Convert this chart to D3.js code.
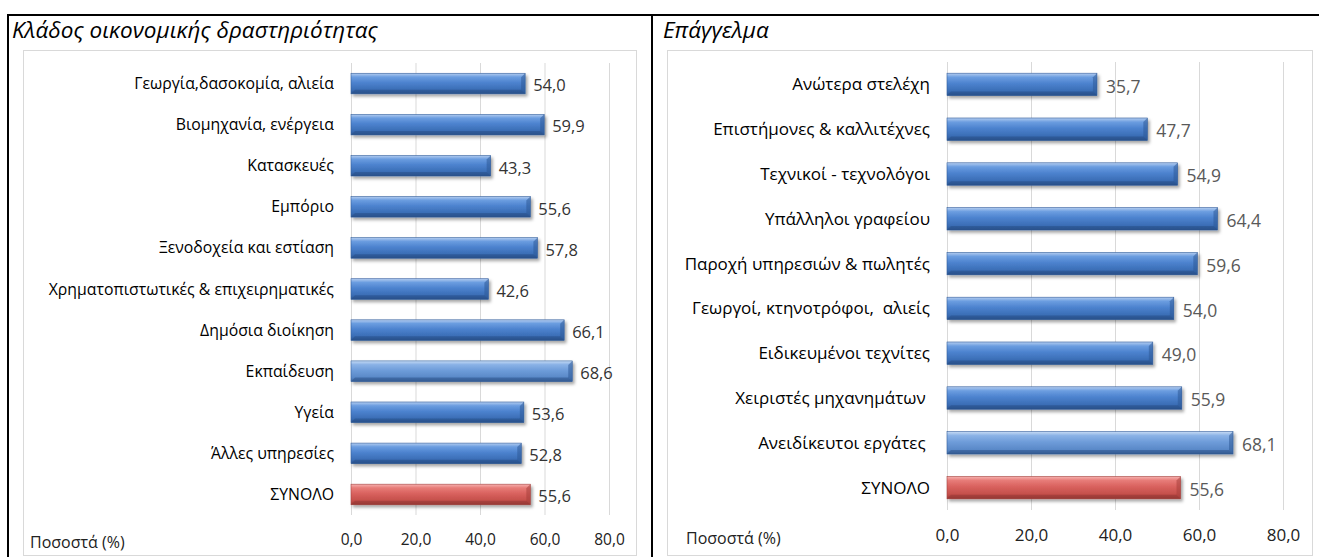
<!DOCTYPE html>
<html><head><meta charset="utf-8">
<script src="https://cdn.jsdelivr.net/npm/d3@7"></script>
<style>
html,body{margin:0;padding:0;background:#fff;}
svg{display:block;}
</style></head>
<body>
<svg id="chart" width="1319" height="557"></svg>
<script>
// ---- data ----
const leftTitle = "Κλάδος οικονομικής δραστηριότητας";
const leftCategories = ["Γεωργία,δασοκομία, αλιεία","Βιομηχανία, ενέργεια","Κατασκευές","Εμπόριο","Ξενοδοχεία και εστίαση","Χρηματοπιστωτικές & επιχειρηματικές","Δημόσια διοίκηση","Εκπαίδευση","Υγεία","Άλλες υπηρεσίες","ΣΥΝΟΛΟ"];
const leftValues = [54.0,59.9,43.3,55.6,57.8,42.6,66.1,68.6,53.6,52.8,55.6];
const leftHighlight = [7];

const rightTitle = "Επάγγελμα";
const rightCategories = ["Ανώτερα στελέχη","Επιστήμονες & καλλιτέχνες","Τεχνικοί - τεχνολόγοι","Υπάλληλοι γραφείου","Παροχή υπηρεσιών & πωλητές","Γεωργοί, κτηνοτρόφοι,  αλιείς","Ειδικευμένοι τεχνίτες","Χειριστές μηχανημάτων ","Ανειδίκευτοι εργάτες ","ΣΥΝΟΛΟ"];
const rightValues = [35.7,47.7,54.9,64.4,59.6,54.0,49.0,55.9,68.1,55.6];
const rightHighlight = [8];

const tickValues = [0,20,40,60,80];
const axisTitle = "Ποσοστά (%)";
const fmt = v => v.toFixed(1).replace(".", ",");

const svg = d3.select("#chart");
const defs = svg.append("defs");

function grad(id, stops){
  const g = defs.append("linearGradient").attr("id", id).attr("x1",0).attr("y1",0).attr("x2",0).attr("y2",1);
  stops.forEach(s => g.append("stop").attr("offset", s[0]).attr("stop-color", s[1]));
}
grad("gBlue", [[0,"#b4cdf0"],[0.18,"#6b9de0"],[0.45,"#4d83cf"],[0.8,"#3a6db5"],[1,"#2b5590"]]);
grad("gLight", [[0,"#c6daf4"],[0.18,"#8ab2e6"],[0.45,"#6f9dda"],[0.8,"#5a89c8"],[1,"#3f679f"]]);
grad("gRed", [[0,"#f7b3b1"],[0.18,"#e77c78"],[0.45,"#d9625e"],[0.8,"#c44f4b"],[1,"#9c3a37"]]);
const sh = defs.append("filter").attr("id","shadow").attr("x","-5%").attr("y","-30%").attr("width","115%").attr("height","190%");
sh.append("feDropShadow").attr("dx",2).attr("dy",2.5).attr("stdDeviation",1.5).attr("flood-color","#000").attr("flood-opacity",0.35);

// outer frame lines
svg.append("line").attr("x1",7).attr("x2",1319).attr("y1",15).attr("y2",15).attr("stroke","#000").attr("stroke-width",2);
svg.append("line").attr("x1",8).attr("x2",8).attr("y1",14).attr("y2",557).attr("stroke","#000").attr("stroke-width",2);
svg.append("line").attr("x1",652).attr("x2",652).attr("y1",14).attr("y2",557).attr("stroke","#000").attr("stroke-width",2);

function panel(cfg){
  const g = svg.append("g");
  g.append("text").attr("x", cfg.titleX).attr("y", 38)
    .attr("font-family","'Open Sans', 'Noto Sans', sans-serif").attr("font-style","italic")
    .attr("font-size", cfg.titleSize).attr("fill","#000").text(cfg.title);
  g.append("rect").attr("x", cfg.box[0]+0.5).attr("y", cfg.box[1]+0.5).attr("width", cfg.box[2]).attr("height", cfg.box[3])
    .attr("fill","#fff").attr("stroke","#d9d9d9").attr("stroke-width",1);

  const x = d3.scaleLinear().domain([0,80]).range([cfg.x0, cfg.x1]);
  const y = d3.scaleBand().domain(cfg.categories).range([cfg.yTop, cfg.yBot]).paddingInner(cfg.pad).paddingOuter(cfg.pad/2);

  const grid = g.append("g").attr("transform", `translate(0,${cfg.yBot})`)
    .call(d3.axisBottom(x).tickValues(tickValues).tickSize(-(cfg.yBot-cfg.yTop)).tickFormat(""));
  grid.select(".domain").remove();
  grid.selectAll(".tick line").attr("stroke","#d9d9d9").attr("stroke-width",1);

  const ax = g.append("g").attr("transform", `translate(0,${cfg.tickY})`)
    .call(d3.axisBottom(x).tickValues(tickValues).tickSize(0).tickPadding(0).tickFormat(fmt));
  ax.select(".domain").remove();
  ax.selectAll("text").attr("font-family", cfg.font).attr("font-size", cfg.tickSize).attr("fill", cfg.tickColor).attr("dy","0.32em");

  g.append("text").attr("x", cfg.axisTitleX).attr("y", cfg.tickY + 3).attr("dy","0.32em")
    .attr("font-family", cfg.font).attr("font-size", cfg.axisTitleSize).attr("fill", cfg.tickColor).text(axisTitle);

  g.selectAll(".cat").data(cfg.categories).enter().append("text")
    .attr("x", cfg.labelX).attr("y", d => y(d) + y.bandwidth()/2).attr("dy","0.35em")
    .attr("text-anchor","end").attr("font-family", cfg.font).attr("font-size", cfg.labelSize)
    .attr("fill","#000").attr("xml:space","preserve").style("white-space","pre").text(d => d);

  const data = cfg.categories.map((c,i) => ({c, v: cfg.values[i], i}));
  const n = data.length;
  g.selectAll(".bar").data(data).enter().append("rect")
    .attr("x", x(0)).attr("y", d => y(d.c)).attr("width", d => x(d.v) - x(0)).attr("height", y.bandwidth())
    .attr("fill", d => d.i === n-1 ? "url(#gRed)" : (cfg.highlight.includes(d.i) ? "url(#gLight)" : "url(#gBlue)"))
    .attr("stroke", d => d.i === n-1 ? "#a34440" : "#345f9c").attr("stroke-width",0.6)
    .attr("filter","url(#shadow)");
  g.selectAll(".bev").data(data).enter().append("path")
    .attr("d", d => {
      const xe = x(d.v), yt = y(d.c), h = y.bandwidth(), b = 4;
      return `M${xe},${yt} L${xe-b},${yt+b} L${xe-b},${yt+h-b} L${xe},${yt+h} Z`;
    })
    .attr("fill", d => d.i === n-1 ? "#a8403c" : "#2d5a98").attr("opacity",0.55);
  g.selectAll(".bevb").data(data).enter().append("path")
    .attr("d", d => {
      const xe = x(d.v), yt = y(d.c), h = y.bandwidth(), b = 4, xs = x(0);
      return `M${xs},${yt+h} L${xs+b},${yt+h-b} L${xe-b},${yt+h-b} L${xe},${yt+h} Z`;
    })
    .attr("fill", d => d.i === n-1 ? "#8e3431" : "#254c83").attr("opacity",0.45);

  g.selectAll(".val").data(data).enter().append("text")
    .attr("x", d => x(d.v) + cfg.valGap).attr("y", d => y(d.c) + y.bandwidth()/2 + 2).attr("dy","0.35em")
    .attr("font-family", cfg.font).attr("font-size", cfg.valSize).attr("fill", cfg.valColor)
    .text(d => fmt(d.v));
}

panel({
  title: leftTitle, titleX: 12, titleSize: 22.5,
  box: [23, 50, 613, 505],
  categories: leftCategories, values: leftValues, highlight: leftHighlight,
  x0: 351, x1: 609, yTop: 63, yBot: 515, pad: 0.5,
  font: "'Open Sans', 'Noto Sans', sans-serif",
  labelX: 334, labelSize: 15.8,
  tickY: 540, tickSize: 15.5, tickColor: "#222",
  axisTitleX: 30, axisTitleSize: 16,
  valGap: 8, valSize: 16.5, valColor: "#333"
});
panel({
  title: rightTitle, titleX: 663, titleSize: 22.5,
  box: [667, 50, 645, 505],
  categories: rightCategories, values: rightValues, highlight: rightHighlight,
  x0: 947, x1: 1283, yTop: 62, yBot: 510, pad: 0.5,
  font: "'Open Sans', 'Noto Sans', sans-serif",
  labelX: 930, labelSize: 17,
  tickY: 536, tickSize: 17, tickColor: "#222",
  axisTitleX: 686, axisTitleSize: 16,
  valGap: 9, valSize: 17.5, valColor: "#595959"
});
</script>
</body></html>
